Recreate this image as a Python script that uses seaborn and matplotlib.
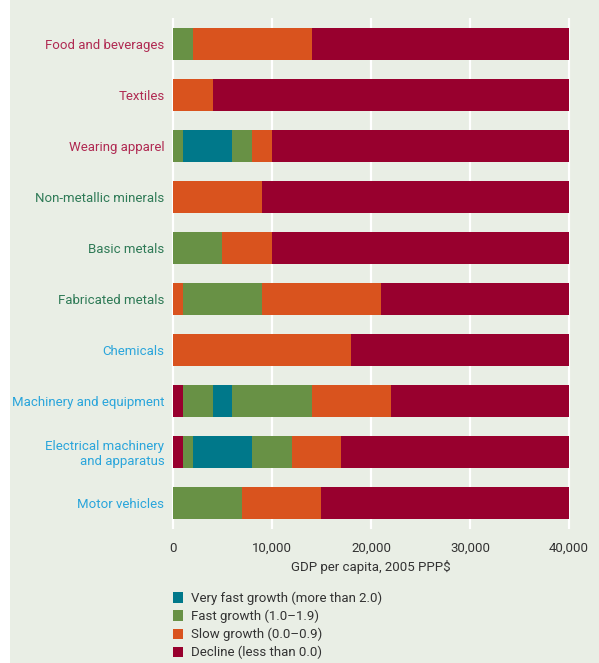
import matplotlib
matplotlib.use("Agg")
import matplotlib.pyplot as plt
import matplotlib.patches as mpatches
import seaborn as sns

sectors = ["Food and beverages", "Textiles", "Wearing apparel", "Non-metallic minerals",
           "Basic metals", "Fabricated metals", "Chemicals", "Machinery and equipment",
           "Electrical machinery\nand apparatus", "Motor vehicles"]
label_groups = ["a", "a", "a", "b", "b", "b", "c", "c", "c", "c"]

# growth category of each consecutive segment, and the GDP per capita where each segment ends
segment_cats = [
    ["fast", "slow", "decline"],
    ["slow", "decline"],
    ["fast", "vfast", "fast", "slow", "decline"],
    ["slow", "decline"],
    ["fast", "slow", "decline"],
    ["slow", "fast", "slow", "decline"],
    ["slow", "decline"],
    ["decline", "fast", "vfast", "fast", "slow", "decline"],
    ["decline", "fast", "vfast", "fast", "slow", "decline"],
    ["fast", "slow", "decline"],
]
segment_ends = [
    [2000, 14000, 40000],
    [4000, 40000],
    [1000, 6000, 8000, 10000, 40000],
    [9000, 40000],
    [5000, 10000, 40000],
    [1000, 9000, 21000, 40000],
    [18000, 40000],
    [1000, 4000, 6000, 14000, 22000, 40000],
    [1000, 2000, 8000, 12000, 17000, 40000],
    [7000, 15000, 40000],
]

categories = ["vfast", "fast", "slow", "decline"]
category_labels = ["Very fast growth (more than 2.0)", "Fast growth (1.0\u20131.9)",
                   "Slow growth (0.0\u20130.9)", "Decline (less than 0.0)"]
x_ticks = [0, 10000, 20000, 30000, 40000]
x_ticklabels = ["0", "10,000", "20,000", "30,000", "40,000"]
x_label = "GDP per capita, 2005 PPP$"

colors = {"vfast": "#00788a", "fast": "#689145", "slow": "#d9531e", "decline": "#98002e"}
label_colors = {"a": "#b02a52", "b": "#2e7a56", "c": "#2aa5db"}
bg = "#e9eee5"
fs = 9.5

sns.set_theme(style="white")
plt.rcParams["font.family"] = ["Roboto", "DejaVu Sans"]

fig = plt.figure(figsize=(5.99, 6.63), dpi=100, facecolor=bg)
# white strip at the left edge
fig.patches.append(mpatches.Rectangle((0, 0), 10 / 599, 1, transform=fig.transFigure,
                                      facecolor="white", edgecolor="none", zorder=0))
ax = fig.add_axes([170 / 599, 1 - 529 / 663, (572 - 170) / 599, (529 - 18) / 663])
ax.set_facecolor(bg)

for i, (cats, ends) in enumerate(zip(segment_cats, segment_ends)):
    left = 0
    for c, e in zip(cats, ends):
        ax.barh(i, e - left, left=left, height=0.63, color=colors[c], edgecolor="none", zorder=2)
        left = e

ax.set_ylim(len(sectors) - 1 + 0.51, -0.51)
ax.set_xlim(-300, 40300)
ax.set_xticks(x_ticks)
ax.set_xticklabels(x_ticklabels, fontsize=fs, color="#333333")
ax.set_yticks(range(len(sectors)))
ax.set_yticklabels(sectors, fontsize=fs)
for t, g in zip(ax.get_yticklabels(), label_groups):
    t.set_color(label_colors[g])
ax.tick_params(axis="both", length=0)
ax.tick_params(axis="y", pad=4)
ax.tick_params(axis="x", pad=9)
ax.set_xlabel(x_label, fontsize=fs, color="#333333", labelpad=4)
ax.grid(axis="x", color="white", linewidth=1.6, zorder=1)
ax.grid(axis="y", visible=False)
ax.set_axisbelow(True)
for s in ax.spines.values():
    s.set_visible(False)

handles = [mpatches.Patch(facecolor=colors[c], edgecolor="none") for c in categories]
fig.legend(handles, category_labels, loc="upper left",
           bbox_to_anchor=(170 / 599, 1 - 589 / 663), frameon=False,
           fontsize=fs, labelcolor="#333333", handlelength=0.8, handleheight=0.8,
           handletextpad=0.6, labelspacing=0.35, borderaxespad=0, borderpad=0.2)

fig.savefig("out.png", dpi=100, facecolor=bg)
